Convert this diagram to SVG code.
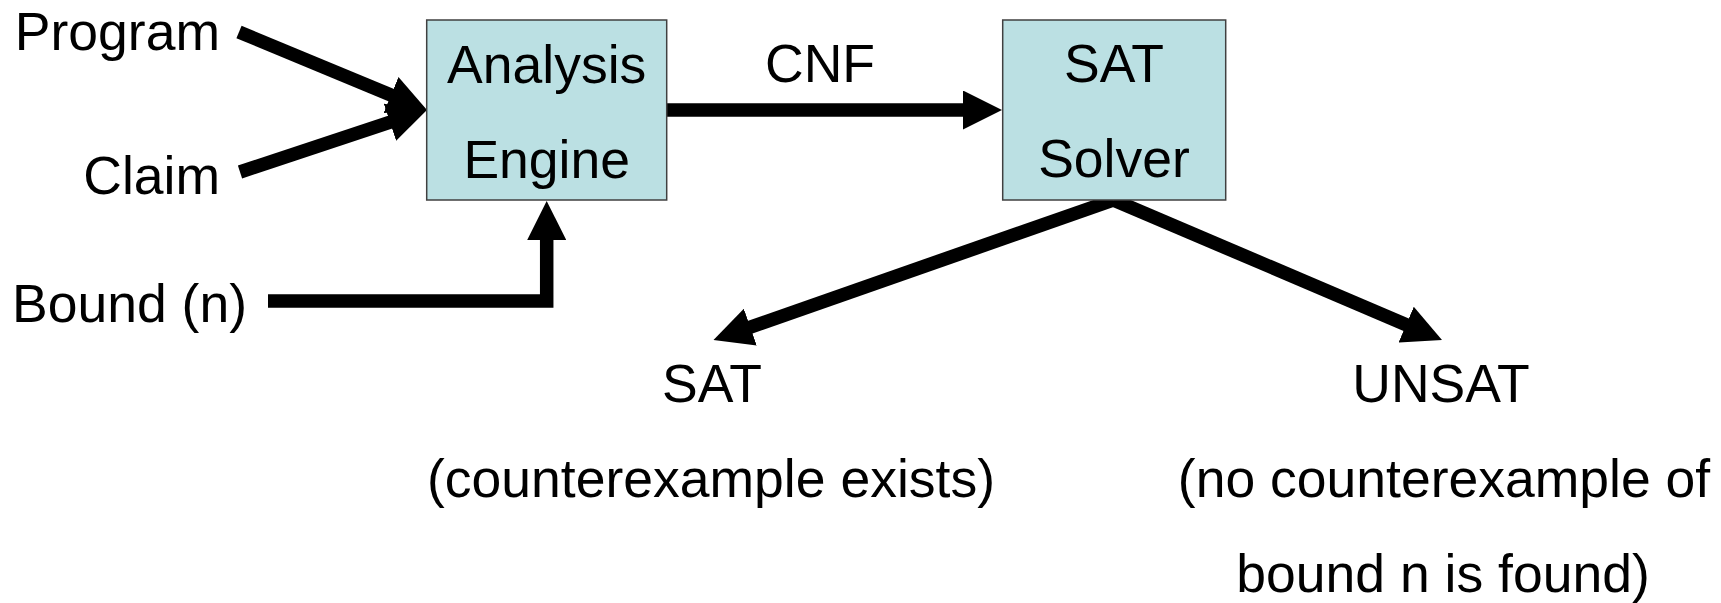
<svg xmlns="http://www.w3.org/2000/svg" width="1721" height="603" viewBox="0 0 1721 603">
<style>
text{font-family:"Liberation Sans",Arial,sans-serif;font-size:53.5px;fill:#000}
.c{text-anchor:middle}
.e{text-anchor:end}
.box{fill:#BBE0E3;stroke:#404040;stroke-width:1.5}
.ar{fill:none;stroke:#000;stroke-width:13.5;stroke-linejoin:miter;marker-end:url(#ah)}
</style>
<defs>
<marker id="ah" markerUnits="userSpaceOnUse" viewBox="0 0 39 39" markerWidth="39" markerHeight="39" refX="9" refY="19.5" orient="auto">
<path d="M0,0 L39,19.5 L0,39 Z" fill="#000"/>
</marker>
</defs>
<rect width="1721" height="603" fill="#fff"/>
<g id="connectors">
<path class="ar" d="M239,32 L399.3,98.5"/>
<path class="ar" d="M240,172 L398.5,119.4"/>
<path class="ar" d="M268,301 H546.7 V231"/>
<path class="ar" d="M666.7,110 H972"/>
<path class="ar" d="M1113.5,200 L741.8,330.1"/>
<path class="ar" d="M1113.5,200 L1414.4,328.2"/>
</g>
<g id="program"><text class="e" x="220" y="50">Program</text></g>
<g id="claim"><text class="e" x="220" y="194">Claim</text></g>
<g id="bound"><text x="12" y="321.5">Bound (n)</text></g>
<g id="analysis-engine">
<rect class="box" x="426.7" y="20" width="240" height="180"/>
<text class="c" x="546.7" y="82.7">Analysis</text>
<text class="c" x="546.7" y="177.7">Engine</text>
</g>
<g id="cnf-label"><text class="c" x="820" y="81.7">CNF</text></g>
<g id="sat-solver">
<rect class="box" x="1002.7" y="20" width="223" height="180"/>
<text class="c" x="1114" y="81.7">SAT</text>
<text class="c" x="1114" y="176.7">Solver</text>
</g>
<g id="sat-result">
<text class="c" x="712" y="402">SAT</text>
<text class="c" x="711" y="497">(counterexample exists)</text>
</g>
<g id="unsat-result">
<text class="c" x="1441" y="402">UNSAT</text>
<text class="c" x="1444" y="497">(no counterexample of</text>
<text class="c" x="1443" y="592">bound n is found)</text>
</g>
</svg>
